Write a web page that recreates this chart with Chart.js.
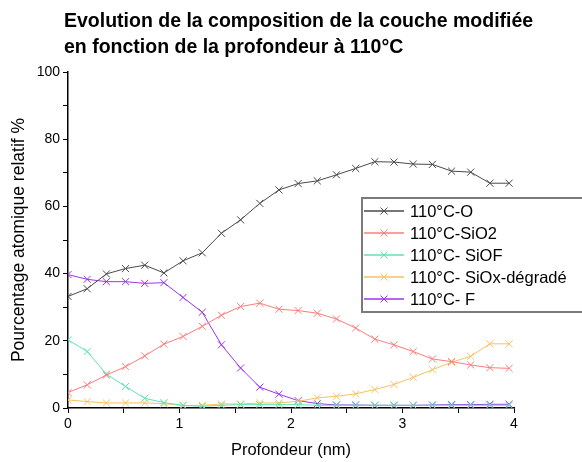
<!DOCTYPE html>
<html>
<head>
<meta charset="utf-8">
<script src="https://cdn.jsdelivr.net/npm/chart.js@4.4.0/dist/chart.umd.min.js"></script>
<style>
  html, body { margin: 0; padding: 0; background: #fff; }
  #wrap { position: relative; width: 582px; height: 462px; overflow: hidden; }
  #title { position: absolute; left: 64px; top: 7px; font: bold 19.5px "Liberation Sans", Arial, sans-serif; line-height: 26px; color: #000; white-space: nowrap; }
  canvas { position: absolute; left: 0; top: 0; }
</style>
</head>
<body>
<div id="wrap">
  <canvas id="c" width="582" height="462"></canvas>
  <div id="title">Evolution de la composition de la couche modifiée<br>en fonction de la profondeur à 110°C</div>
</div>
<script>
// Depth (nm)
const depth = [0, 0.172, 0.344, 0.516, 0.688, 0.860, 1.032, 1.204, 1.376, 1.548, 1.720, 1.892,
               2.064, 2.236, 2.408, 2.580, 2.752, 2.924, 3.096, 3.268, 3.440, 3.612, 3.784, 3.956];
const seriesNames = ["110°C-O", "110°C-SiO2", "110°C- SiOF", "110°C- SiOx-dégradé", "110°C- F"];
const valO     = [33.2, 35.5, 39.9, 41.5, 42.5, 40.2, 43.8, 46.2, 52.0, 56.0, 60.9, 64.9,
                  66.8, 67.6, 69.4, 71.3, 73.3, 73.2, 72.6, 72.5, 70.5, 70.2, 66.9, 66.9];
const valSiO2  = [4.6, 6.9, 9.8, 12.3, 15.5, 19.0, 21.3, 24.3, 27.6, 30.2, 31.2, 29.4,
                  29.0, 28.2, 26.5, 23.8, 20.5, 18.8, 16.8, 14.6, 13.8, 12.8, 12.0, 11.8];
const valSiOF  = [20.3, 16.8, 10.1, 6.4, 2.9, 1.6, 0.8, 0.5, 0.8, 1.0, 1.0, 1.0,
                  1.0, 0.8, 0.8, 0.8, 0.8, 0.8, 0.8, 0.8, 0.8, 0.8, 0.8, 0.8];
const valSiOx  = [2.4, 1.9, 1.5, 1.5, 1.5, 1.3, 0.7, 0.8, 1.2, 1.2, 1.5, 1.5,
                  2.0, 3.0, 3.5, 4.2, 5.5, 7.0, 9.1, 11.4, 13.6, 15.4, 19.1, 19.1];
const valF     = [39.7, 38.3, 37.6, 37.6, 37.1, 37.3, 32.9, 28.5, 18.8, 11.9, 6.2, 4.1,
                  2.2, 1.3, 0.9, 0.9, 0.8, 0.8, 0.8, 0.9, 1.0, 1.0, 1.1, 1.1];
const xTicks = [0, 1, 2, 3, 4];
const yTicks = [0, 20, 40, 60, 80, 100];

const colors = ["#4a4a4a", "#ff7b7b", "#5fe3b5", "#f5c262", "#9a35ee"];
const allVals = [valO, valSiO2, valSiOF, valSiOx, valF];

const FONT = "'Liberation Sans', Arial, sans-serif";

const datasets = allVals.map((vals, i) => ({
  label: seriesNames[i],
  data: depth.map((d, j) => ({ x: d, y: vals[j] })),
  borderColor: colors[i],
  backgroundColor: colors[i],
  borderWidth: 1,
  pointStyle: 'crossRot',
  pointRadius: 5,
  pointHoverRadius: 5,
  pointBorderWidth: 1,
  pointBorderColor: colors[i],
  tension: 0,
  fill: false
}));

const legendBox = {
  id: 'legendBox',
  afterDraw(chart) {
    const ctx = chart.ctx;
    const x0 = 362, y0 = 198, w = 240, h = 114;
    ctx.save();
    ctx.fillStyle = '#fff';
    ctx.fillRect(x0, y0, w, h);
    ctx.strokeStyle = '#7a7a7a';
    ctx.lineWidth = 2;
    ctx.strokeRect(x0, y0, w, h);
    ctx.font = "16.5px " + FONT;
    ctx.textBaseline = 'middle';
    seriesNames.forEach((name, i) => {
      const cy = y0 + 13 + i * 22;
      ctx.strokeStyle = colors[i];
      ctx.lineWidth = 1.5;
      ctx.beginPath();
      ctx.moveTo(364, cy); ctx.lineTo(404, cy);
      ctx.stroke();
      ctx.lineWidth = 1;
      const r = 3.5, cx = 384;
      ctx.beginPath();
      ctx.moveTo(cx - r, cy - r); ctx.lineTo(cx + r, cy + r);
      ctx.moveTo(cx - r, cy + r); ctx.lineTo(cx + r, cy - r);
      ctx.stroke();
      ctx.fillStyle = '#000';
      ctx.fillText(name, 410, cy + 1);
    });
    ctx.restore();
  }
};

new Chart(document.getElementById('c'), {
  type: 'line',
  data: { datasets },
  plugins: [legendBox],
  options: {
    responsive: false,
    animation: false,
    layout: { padding: { top: 72, right: 68, bottom: 2, left: 0 } },
    plugins: {
      legend: { display: false },
      title: { display: false },
      tooltip: { enabled: false }
    },
    scales: {
      x: {
        type: 'linear',
        min: 0, max: 4,
        afterFit(s) { s.height = 52; },
        border: { display: true, color: '#000', width: 1.5 },
        grid: { display: true, drawOnChartArea: false, drawTicks: true, tickLength: 5, color: '#000', lineWidth: 1 },
        ticks: {
          stepSize: 0.5,
          color: '#000',
          padding: 3,
          font: { family: FONT, size: 14 },
          callback: (v) => xTicks.includes(v) ? String(v) : ''
        },
        title: { display: true, text: 'Profondeur (nm)', color: '#000', font: { family: FONT, size: 16.5 }, padding: { top: 1, bottom: 0 } }
      },
      y: {
        min: 0, max: 100,
        afterFit(s) { s.width = 68; },
        border: { display: true, color: '#000', width: 1.5 },
        grid: { display: true, drawOnChartArea: false, drawTicks: true, tickLength: 5, color: '#000', lineWidth: 1 },
        ticks: {
          stepSize: 10,
          color: '#000',
          padding: 3,
          font: { family: FONT, size: 14 },
          callback: (v) => yTicks.includes(v) ? String(v) : ''
        },
        title: { display: true, text: 'Pourcentage atomique relatif %', color: '#000', font: { family: FONT, size: 17.5 }, padding: { top: 9, bottom: 0 } }
      }
    }
  }
});
</script>
</body>
</html>
